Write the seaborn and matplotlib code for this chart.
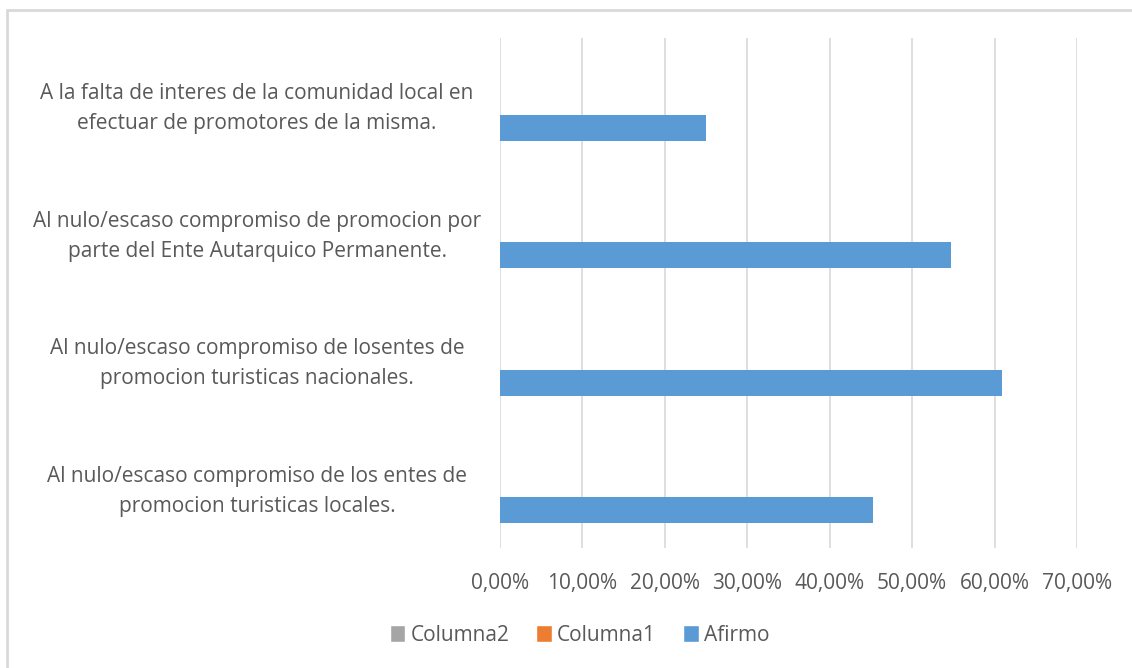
import matplotlib
matplotlib.use("Agg")
import matplotlib.pyplot as plt
import matplotlib.transforms as mtransforms
from matplotlib.lines import Line2D
from matplotlib.patches import Patch
from matplotlib.ticker import FuncFormatter
import pandas as pd
import seaborn as sns

categories = [
    "A la falta de interes de la comunidad local en\nefectuar de promotores de la misma.",
    "Al nulo/escaso compromiso de promocion por\nparte del Ente Autarquico Permanente.",
    "Al nulo/escaso compromiso de losentes de\npromocion turisticas nacionales.",
    "Al nulo/escaso compromiso de los entes de\npromocion turisticas locales.",
]
afirmo = [0.25, 0.5469, 0.6094, 0.4531]
columna1 = [0, 0, 0, 0]
columna2 = [0, 0, 0, 0]
series = ["Columna2", "Columna1", "Afirmo"]
colors = {"Columna2": "#A5A5A5", "Columna1": "#ED7D31", "Afirmo": "#5B9BD5"}
xticks = [0, 0.1, 0.2, 0.3, 0.4, 0.5, 0.6, 0.7]

rows = []
for name, vals in [("Columna2", columna2), ("Columna1", columna1), ("Afirmo", afirmo)]:
    for c, v in zip(categories, vals):
        rows.append({"cat": c, "serie": name, "valor": v})
df = pd.DataFrame(rows)

sns.set_theme(style="white")
plt.rcParams["font.family"] = ["Open Sans", "DejaVu Sans"]
text_color = "#595959"
grid_color = "#D9D9D9"

fig = plt.figure(figsize=(11.32, 6.68), dpi=100)
ax = fig.add_axes([0.4417, 0.1796, 0.5097, 0.7635])

sns.barplot(data=df, y="cat", x="valor", hue="serie", hue_order=series,
            order=categories, palette=colors, width=0.61, linewidth=0,
            saturation=1, errorbar=None, ax=ax, legend=False)

ax.set_xlim(0, 0.7)
ax.set_xticks(xticks)
ax.xaxis.set_major_formatter(FuncFormatter(lambda v, _: f"{v*100:.2f}%".replace(".", ",")))
ax.grid(axis="x", color=grid_color, linewidth=1.2)
ax.set_axisbelow(True)
for s in ax.spines.values():
    s.set_visible(False)
ax.tick_params(axis="both", length=0, colors=text_color, labelsize=15)
ax.tick_params(axis="x", pad=18)
ax.set_xlabel("")
ax.set_ylabel("")

# two-line category labels centred around x ~ 257 px
lbl_trans = mtransforms.blended_transform_factory(ax.transAxes, ax.transData)
x_ax = (257 / 1132 - 0.4417) / 0.5097
for lbl in ax.get_yticklabels():
    lbl.set_transform(lbl_trans)
    lbl.set_x(x_ax)
    lbl.set_horizontalalignment("center")
    lbl.set_multialignment("center")
    lbl.set_linespacing(1.55)
    lbl.set_fontsize(15)

handles = [Patch(facecolor=colors[s], label=s) for s in series]
fig.legend(handles=handles, loc="center", bbox_to_anchor=(0.512, 0.049), ncol=3,
           frameon=False, fontsize=15, handlelength=0.75, handleheight=0.9,
           handletextpad=0.25, columnspacing=1.3, labelcolor=text_color)

fig.add_artist(Line2D([7/1132, 1.0], [1 - 10/668, 1 - 10/668], color="#D9D9D9", linewidth=2))
fig.add_artist(Line2D([7/1132, 7/1132], [0, 1 - 10/668], color="#D9D9D9", linewidth=2))

fig.savefig("out.png", dpi=100, facecolor="white")
